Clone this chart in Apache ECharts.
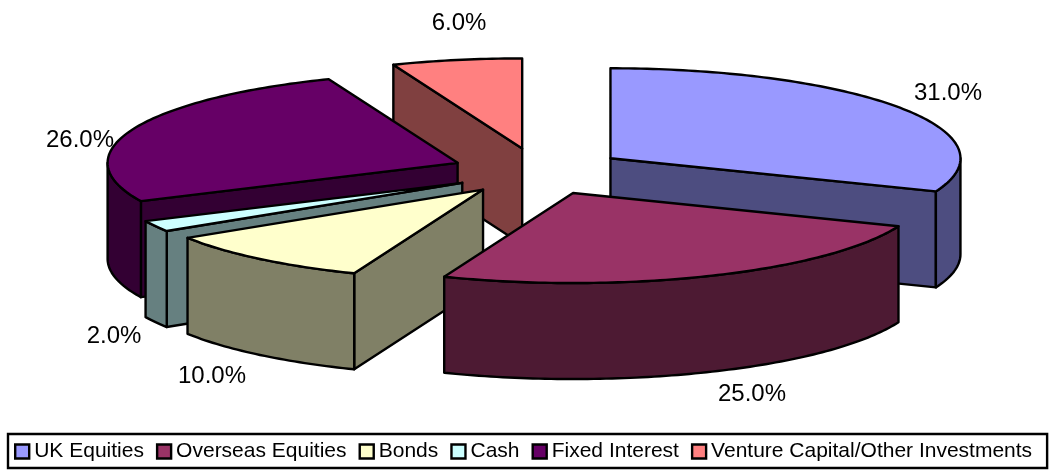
<!DOCTYPE html>
<html>
<head>
<meta charset="utf-8">
<title>Asset allocation</title>
<script src="https://cdn.jsdelivr.net/npm/echarts@6/dist/echarts.min.js"></script>
<style>
  html, body { margin: 0; padding: 0; background: #fff; }
  #chart { width: 1058px; height: 470px; }
</style>
</head>
<body>
<div id="chart"></div>
<script>
// values
const categories = ['UK Equities', 'Overseas Equities', 'Bonds', 'Cash', 'Fixed Interest', 'Venture Capital/Other Investments'];
const shares = [31, 25, 10, 2, 26, 6];

// colours: top face / side face
const topColors = ['#9999FF', '#993366', '#FFFFCC', '#CCFFFF', '#660066', '#FF8080'];
const sideColors = ['#4D4D80', '#4D1A33', '#808066', '#668080', '#330033', '#804040'];

// label centres in px, same order as categories
const labelX = [948, 752, 212, 114, 80, 459];
const labelY = [93, 394, 376, 336, 140, 23];

// tilted pie layout
const pie = { cx: 538.5, cy: 171.5, rx: 350, ry: 90, depth: 96, explodeX: 87, explodeY: 23.5 };
const FONT = '"Liberation Sans", Arial, sans-serif';

const total = shares.reduce((a, b) => a + b, 0);
const toRad = d => d * Math.PI / 180;

// angles clockwise from 12 o'clock
let acc = 0;
const starts = shares.map(v => {
  const s = acc;
  acc += v / total * 360;
  return s;
});

function rimPoint(c, deg, drop) {
  return [c[0] + pie.rx * Math.sin(toRad(deg)), c[1] - pie.ry * Math.cos(toRad(deg)) + (drop || 0)];
}

function arc(c, from, to, drop) {
  const pts = [];
  const n = Math.max(1, Math.ceil(Math.abs(to - from)));
  for (let i = 0; i <= n; i++) {
    pts.push(rimPoint(c, from + (to - from) * i / n, drop));
  }
  return pts;
}

function makeRender(idx) {
  return function (params, api) {
    const value = api.value(0);
    const start = starts[idx];
    const end = start + value / total * 360;
    const mid = (start + end) / 2;
    const c = [
      pie.cx + pie.explodeX * Math.sin(toRad(mid)),
      pie.cy - pie.explodeY * Math.cos(toRad(mid))
    ];
    const base = [c[0], c[1] + pie.depth];
    const line = { stroke: '#000', lineWidth: 2.4, lineJoin: 'round' };
    const face = (pts, fill) => ({
      type: 'polygon',
      shape: { points: pts },
      style: Object.assign({ fill: fill }, line)
    });
    const children = [];
    const side = sideColors[idx];

    // radial walls, only when they face the viewer
    if (start > 180) {
      const a = rimPoint(c, start);
      children.push(face([c, a, [a[0], a[1] + pie.depth], base], side));
    }
    if (end < 180) {
      const b = rimPoint(c, end);
      children.push(face([c, b, [b[0], b[1] + pie.depth], base], side));
    }

    // outer wall, only the part facing the viewer
    const from = Math.max(start, 90);
    const to = Math.min(end, 270);
    if (to > from) {
      children.push(face(arc(c, from, to, 0).concat(arc(c, to, from, pie.depth)), side));
    }

    children.push(face([c].concat(arc(c, start, end, 0)), topColors[idx]));

    children.push({
      type: 'text',
      style: {
        x: labelX[idx],
        y: labelY[idx],
        text: value.toFixed(1) + '%',
        fill: '#000',
        font: '24px ' + FONT,
        align: 'center',
        verticalAlign: 'middle'
      },
      z2: 100
    });
    return { type: 'group', children: children };
  };
}

// back slices get drawn first
const depthOf = i => -Math.cos(toRad(starts[i] + shares[i] / total * 180));
const series = categories.map((name, i) => ({
  type: 'custom',
  name: name,
  coordinateSystem: 'none',
  silent: true,
  animation: false,
  z: 2 + depthOf(i),
  itemStyle: { color: topColors[i] },
  encode: { value: 0 },
  renderItem: makeRender(i),
  data: [[shares[i]]]
}));

const chart = echarts.init(document.getElementById('chart'), null, { renderer: 'canvas' });
chart.setOption({
  backgroundColor: '#fff',
  animation: false,
  legend: {
    data: categories,
    left: 8,
    top: 434,
    orient: 'horizontal',
    icon: 'rect',
    itemWidth: 14,
    itemHeight: 14,
    itemGap: 12,
    padding: [7, 15, 6, 6],
    backgroundColor: '#fff',
    borderColor: '#000',
    borderWidth: 2.4,
    selectedMode: false,
    itemStyle: { borderColor: '#000', borderWidth: 2.4 },
    textStyle: { fontFamily: FONT, fontSize: 21, color: '#000' }
  },
  series: series
});
</script>
</body>
</html>
